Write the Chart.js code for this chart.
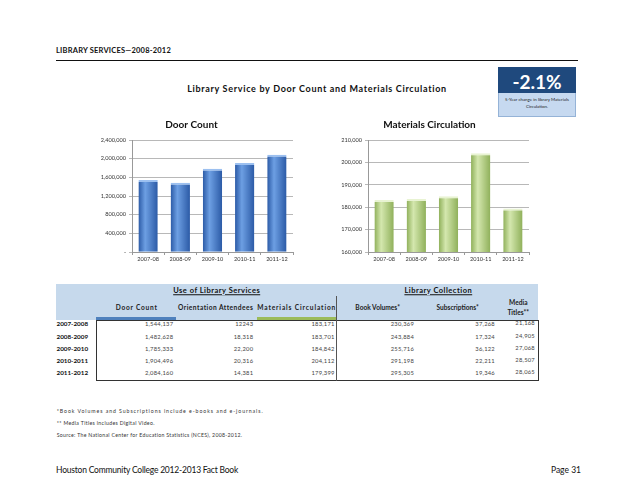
<!DOCTYPE html>
<html>
<head>
<meta charset="utf-8">
<script src="https://cdn.jsdelivr.net/npm/chart.js@4.4.0/dist/chart.umd.min.js"></script>
<style>
body { margin: 0; width: 638px; height: 493px; background: #fff; position: relative; overflow: hidden;
       font-family: Lato, "Open Sans", sans-serif; color: #222; }
.t { position: absolute; white-space: nowrap; line-height: 1; }
.box { position: absolute; box-sizing: border-box; }
canvas { position: absolute; }
</style>
</head>
<body>
<canvas id="doorChart" width="213" height="155" style="left:90px;top:115px"></canvas>
<canvas id="matChart" width="215" height="155" style="left:330px;top:115px"></canvas>

<script>
// chart data
const years = ['2007-08', '2008-09', '2009-10', '2010-11', '2011-12'];
const doorCount = [1544137, 1482628, 1785333, 1904496, 2084160];
const materials = [183171, 183701, 184842, 204112, 179399];
const doorTicks = [0, 400000, 800000, 1200000, 1600000, 2000000, 2400000];
const matTicks = [160000, 170000, 180000, 190000, 200000, 210000];

// table data
const rowYears = ['2007-2008', '2008-2009', '2009-2010', '2010-2011', '2011-2012'];
const orientation = [12243, 18318, 22200, 20316, 14381];
const bookVolumes = [230369, 243884, 255716, 291198, 295305];
const subscriptions = [37268, 17324, 36122, 22211, 19346];
const mediaTitles = [21168, 24905, 27068, 28507, 28065];

let fmt = v => v.toLocaleString('en-US');

// little helper for absolutely placed text
let txt = (s, x, y, style, align) => {
    let d = document.createElement('div');
    d.className = 't';
    d.innerHTML = s;
    d.style.cssText += style || '';
    d.style.left = x + 'px';
    d.style.top = y + 'px';
    let tx = align === 'c' ? '-50%' : align === 'r' ? '-100%' : '0';
    d.style.transform = 'translate(' + tx + ',-50%)';
    document.body.appendChild(d);
    return d;
};
let rect = (x, y, w, h, style) => {
    let d = document.createElement('div');
    d.className = 'box';
    d.style.cssText = 'left:' + x + 'px;top:' + y + 'px;width:' + w + 'px;height:' + h + 'px;' + style;
    document.body.appendChild(d);
    return d;
};
// stretch text to a target width with letter-spacing
let fit = (el, w) => {
    let n = el.textContent.length;
    let extra = (w - el.getBoundingClientRect().width) / n;
    el.style.letterSpacing = extra.toFixed(2) + 'px';
};

// page header
fit(txt('LIBRARY SERVICES—2008-2012', 56, 51, 'font-size:7.5px;font-weight:bold;color:#111'), 115);
rect(56, 59.5, 522, 1.5, 'background:#111');
fit(txt('Library Service by Door Count and Materials Circulation', 317, 88, 'font-size:9px;font-weight:bold;color:#111', 'c'), 260);

// -2.1% box
rect(498, 67, 78, 26, 'background:#1f497d');
txt('-2.1%', 537, 80.5, 'font-size:19px;font-weight:bold;color:#fff', 'c');
rect(498, 93, 78, 24, 'background:#c6d9f0;border:1px solid #95b3d7;border-top:none');
txt('5-Year change in library Materials', 537, 100, 'font-size:4.4px;color:#222', 'c');
txt('Circulation.', 537, 107, 'font-size:4.4px;color:#222', 'c');

// table
rect(56, 284, 482, 36, 'background:#c6d9ec');
fit(txt('<u>Use of Library Services</u>', 216.7, 290.5, 'font-size:7.5px;font-weight:bold;color:#111', 'c'), 87);
fit(txt('<u>Library Collection</u>', 438.3, 290.5, 'font-size:7.5px;font-weight:bold;color:#111', 'c'), 68);
rect(96, 317, 80, 3, 'background:#4f81bd');
rect(257, 317, 79, 3, 'background:#9bbb59');
rect(95.5, 320, 443, 60.5, 'border:1px solid #333');
rect(335.5, 296, 1, 84.5, 'background:#555');

let hs = 'font-size:6.6px;font-weight:bold;color:#222';
fit(txt('Door Count', 136.7, 306.7, hs, 'c'), 42);
fit(txt('Orientation Attendees', 215.7, 306.7, hs, 'c'), 75);
fit(txt('Materials Circulation', 296.7, 306.7, hs, 'c'), 79);
txt('Book Volumes*', 377.7, 306.7, hs, 'c');
txt('Subscriptions*', 457.7, 306.7, hs, 'c');
txt('Media', 518.3, 301.7, hs, 'c');
txt('Titles**', 518.3, 311.7, hs, 'c');

let cols = [
    [doorCount, 173.3, 0],
    [orientation, 253.3, 0],
    [materials, 334.7, 0],
    [bookVolumes, 414, 0],
    [subscriptions, 495, 0],
    [mediaTitles, 535, -1]
];
let vs = 'font-size:5.8px;color:#444;letter-spacing:0.25px';
rowYears.forEach((yr, i) => {
    let y = 324.2 + i * 12.3;
    txt(yr, 56.5, y, 'font-size:6.3px;font-weight:bold;color:#111');
    cols.forEach(c => {
        let v = c[0][i];
        let s = (c[0] === orientation && v === 12243) ? '12243' : fmt(v);
        txt(s, c[1], y + c[2], vs, 'r');
    });
});

// footnotes
let fs = 'font-size:5.2px;color:#333';
fit(txt('*Book Volumes and Subscriptions include e-books and e-journals.', 56.7, 411.7, fs), 207);
fit(txt('** Media Titles includes Digital Video.', 56.7, 424, fs), 98);
fit(txt('Source: The National Center for Education Statistics (NCES), 2008-2012.', 56.7, 435.7, fs), 186);

// footer
fit(txt('Houston Community College 2012-2013 Fact Book', 56, 470, 'font-size:8.5px;color:#111'), 182);
txt('Page 31', 581, 470, 'font-size:8.5px;color:#111', 'r');

// charts
Chart.defaults.font.family = 'Lato';
Chart.defaults.animation = false;

let barFill = (dark, light) => ctx => {
    let xs = ctx.chart.scales.x;
    if (!xs || ctx.dataIndex == null) return dark;
    let cx = xs.getPixelForValue(ctx.dataIndex);
    let w = xs.width / years.length * 0.6;
    if (!isFinite(cx) || !isFinite(w) || w <= 0) return dark;
    let g = ctx.chart.ctx.createLinearGradient(cx - w / 2, 0, cx + w / 2, 0);
    g.addColorStop(0, dark);
    g.addColorStop(0.35, light);
    g.addColorStop(1, dark);
    return g;
};

let makeChart = (id, title, values, ticks, yWidth, padRight, dark, light, cap) => new Chart(
    document.getElementById(id), {
        type: 'bar',
        data: {
            labels: years,
            datasets: [{
                data: values,
                backgroundColor: barFill(dark, light),
                borderColor: cap,
                borderWidth: { top: 2, left: 0, right: 0, bottom: 0 },
                borderSkipped: 'bottom',
                barPercentage: 1,
                categoryPercentage: 0.6
            }]
        },
        options: {
            responsive: false,
            layout: { padding: { left: 0, right: padRight, top: 0, bottom: 0 } },
            plugins: {
                legend: { display: false },
                tooltip: { enabled: false },
                title: {
                    display: true, text: title, color: '#111',
                    font: { size: 10, weight: 'bold' },
                    padding: { top: 4, bottom: 9 }
                }
            },
            scales: {
                x: {
                    offset: true,
                    grid: { drawOnChartArea: false, tickLength: 3, color: '#999', offset: true },
                    border: { color: '#999' },
                    ticks: { font: { size: 5.6 }, color: '#333', padding: 1, maxRotation: 0 },
                    afterFit: s => { s.height = 18; }
                },
                y: {
                    min: ticks[0], max: ticks[ticks.length - 1],
                    afterBuildTicks: s => { s.ticks = ticks.map(v => ({ value: v })); },
                    grid: { color: '#999', lineWidth: 0.7, tickLength: 3 },
                    border: { color: '#999' },
                    ticks: {
                        font: { size: 5.6 }, color: '#333', padding: 3,
                        callback: v => v === 0 ? '-' : fmt(v)
                    },
                    afterFit: s => { s.width = yWidth; }
                }
            }
        }
    });

makeChart('doorChart', 'Door Count', doorCount, doorTicks, 42, 10, '#2b5aa6', '#6d9fe3', '#9cc0f0');
makeChart('matChart', 'Materials Circulation', materials, matTicks, 38, 16, '#8fb05a', '#d4e7ae', '#e8f3d2');
</script>
</body>
</html>
